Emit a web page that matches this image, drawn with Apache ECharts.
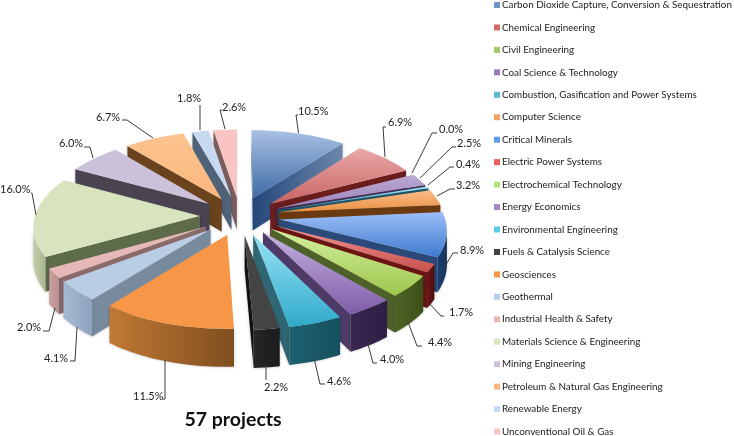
<!DOCTYPE html>
<html><head><meta charset="utf-8">
<style>html,body{margin:0;padding:0;background:#fff}#c{width:734px;height:436px}</style>
<script src="https://cdn.jsdelivr.net/npm/echarts@6/dist/echarts.min.js"></script>
</head><body><div id="c"></div>
<script>
var categories = ["Carbon Dioxide Capture, Conversion & Sequestration","Chemical Engineering","Civil Engineering","Coal Science & Technology","Combustion, Gasification and Power Systems","Computer Science","Critical Minerals","Electric Power Systems","Electrochemical Technology","Energy Economics","Environmental Engineering","Fuels & Catalysis Science","Geosciences","Geothermal","Industrial Health & Safety","Materials Science & Engineering","Mining Engineering","Petroleum & Natural Gas Engineering","Renewable Energy","Unconventional Oil & Gas"];
var shares = [10.5,6.9,0,2.5,0.4,3.2,8.9,1.7,4.4,4.0,4.6,2.2,11.5,4.1,2.0,16.0,6.0,6.7,1.8,2.6];
var legendColors = ["#6F93C8","#D46A68","#A4C86A","#9579B8","#5DB8D0","#F5A262","#5B9BEF","#E8605E","#B5E27A","#A48ACC","#5CC8E8","#404040","#F79646","#B9CDE5","#E6B9B8","#D7E4BD","#CCC1DA","#FCB57F","#C6D9F1","#F9C5C4"];
// top light, top dark, wall left, wall right, cut a, cut b
var shades = [
["#A9C0E3","#3F6BA6","#24477A","#6C86AB","#24477A","#6C86AB"],
["#E8A9A8","#C96463","#6E1F1E","#6E1F1E","#6A1D1C","#6A1D1C"],
["#A4C86A","#A4C86A","#4E6129","#4E6129","#4E6129","#4E6129"],
["#BCA9D3","#9A82BA","#3E2E58","#3E2E58","#3E2E58","#3E2E58"],
["#9FE0F0","#4FB5CE","#1F5566","#1F5566","#1F5566","#1F5566"],
["#F9BC8A","#EC8F42","#6B3A10","#6B3A10","#6B3A10","#6B3A10"],
["#9CBEF7","#3E7BD0","#1B3F72","#1A3358","#2B4A7A","#2B4A7A"],
["#F09593","#C9504D","#6B1513","#4E0F0E","#6B1513","#6B1513"],
["#D3F0A0","#9DC64C","#4E6526","#3C4F18","#4E6129","#4E6129"],
["#C5B2E0","#7F5CA8","#3A2650","#2E1E44","#4D3A66","#4D3A66"],
["#9AE2F5","#2FAACB","#1D6070","#15505E","#2E6674","#2E6674"],
["#444444","#444444","#262626","#1C1C1C","#111111","#111111"],
["#F79646","#F79646","#C07A34","#804E20","#804E20","#804E20"],
["#B9CDE5","#B9CDE5","#A5B9D2","#8FA3BC","#788A9E","#788A9E"],
["#E6B9B8","#E6B9B8","#CBA0A0","#B89090","#8A6A6A","#8A6A6A"],
["#D7E4BD","#D7E4BD","#C2CFA8","#A9B690","#5E6B4B","#5E6B4B"],
["#CCC1DA","#CCC1DA","#4A4452","#4A4452","#4A4452","#4A4452"],
["#FCC48F","#FBB77E","#7A4A1E","#7A4A1E","#6A431C","#6A431C"],
["#C6D9F1","#C6D9F1","#4F6278","#4F6278","#4F6278","#4F6278"],
["#F9C5C4","#F9C5C4","#7A5C5C","#7A5C5C","#7A5C5C","#7A5C5C"]
];
// label text anchor (left, centre y) and leader polyline for each slice
var labelLayout = [
[298,111,[[298.5,133],[296,115],[298,115]]],
[388,122,[[385,157],[383,127],[386,127]]],
[439,129,[[412,173],[432,133],[437,133]]],
[457,143,[[420,178],[452,147],[456,147]]],
[456,164,[[428,185],[450,167],[454,167]]],
[456,185,[[437,196],[450,189],[455,189]]],
[460,250,[[444,268],[453,253],[458,253]]],
[449,312,[[429,303],[441,316],[444,316]]],
[428,342,[[408,322],[417,346],[422,346]]],
[380,359,[[368,344],[373,363],[377,363]]],
[327,381,[[314,358],[320,384],[325,384]]],
[264,387,[[266,365],[266,380]]],
[133,396,[[165,360],[165,399],[163,399]]],
[44,358,[[77,327],[75,361],[70,361]]],
[17,327,[[55,308],[49,331],[43,331]]],
[0,189,[[36,215],[32,193],[31,193]]],
[59,143,[[93,158],[90,147],[84,147]]],
[96,117,[[153,138],[127,120],[122,120]]],
[177,98,[[200,130],[200,105]]],
[222,107,[[225,129],[220,110],[222,110]]]
];
var FONT = 'Lato, "Open Sans", sans-serif';
var view = {cx:240, cy:216, R:165, k:0.48, p:0.11, e:40, h:33};
var total = shares.reduce(function(a,b){return a+b;},0);
var starts = []; (function(){var c=0;shares.forEach(function(v){starts.push(c);c+=v;});})();
function ang(pc){return pc/total*Math.PI*2;}
function proj(u,v,d){var s=1/(1-view.p*v/view.R);return [view.cx+u*s,view.cy+view.k*v*s+d*s];}
function area(q){var a=0;for(var i=0;i<q.length;i++){var p=q[i],n=q[(i+1)%q.length];a+=p[0]*n[1]-n[0]*p[1];}return a;}
function grad(h,a,b){return new echarts.graphic.LinearGradient(0,0,h?1:0,h?0:1,[{offset:0,color:a},{offset:1,color:b}]);}
function poly(pts,fill,shadow){
  var st={fill:fill,stroke:null};
  if(shadow){st.shadowBlur=3;st.shadowColor='rgba(0,0,0,0.25)';}
  return {type:'polygon',shape:{points:pts},style:st};
}
function renderSlice(params,api){
  var i=api.value(0), val=api.value(1), c=shades[i];
  var a0=ang(starts[i]), a1=ang(starts[i]+val), m=(a0+a1)/2;
  var au=view.e*Math.sin(m), av=-view.e*Math.cos(m);
  if(!(val>0)){
    var rim=proj(au+view.R*Math.sin(m),av-view.R*Math.cos(m),view.h);
    return {type:'group',children:[{type:'polyline',shape:{points:[proj(au,av,view.h),rim]},style:{fill:null,stroke:c[4],lineWidth:1}}]};
  }
  var n=Math.max(4,Math.ceil((a1-a0)/0.03)), top=[], bot=[];
  for(var j=0;j<=n;j++){
    var a=a0+(a1-a0)*j/n, u=au+view.R*Math.sin(a), v=av-view.R*Math.cos(a);
    top.push(proj(u,v,0)); bot.push(proj(u,v,view.h));
  }
  var at=proj(au,av,0), ab=proj(au,av,view.h), kids=[];
  var q0=[at,top[0],bot[0],ab], q1=[top[n],at,ab,bot[n]];
  if(area(q0)<0) kids.push(poly(q0,grad(true,c[4],c[5]),true));
  if(area(q1)<0) kids.push(poly(q1,grad(true,c[4],c[5]),true));
  var first=-1,last=-1;
  for(j=0;j<n;j++){ if(area([top[j],top[j+1],bot[j+1],bot[j]])<0){ if(first<0)first=j; last=j+1; } }
  if(first>=0){
    var w=top.slice(first,last+1).concat(bot.slice(first,last+1).reverse());
    kids.push(poly(w,grad(true,c[2],c[3]),true));
  }
  kids.push(poly([at].concat(top),grad(false,c[0],c[1]),false));
  return {type:'group',children:kids};
}
function renderLabel(params,api){
  var i=api.value(0), L=labelLayout[i];
  return {type:'group',children:[
    {type:'polyline',shape:{points:L[2]},style:{fill:null,stroke:'#3a3a3a',lineWidth:1}},
    {type:'text',style:{text:shares[i].toFixed(1)+'%',x:L[0],y:L[1],fill:'#222',font:'11px '+FONT,textAlign:'left',textVerticalAlign:'middle'}}
  ]};
}
var order = categories.map(function(_,i){return i;}).sort(function(a,b){
  var ma=ang(starts[a]+shares[a]/2), mb=ang(starts[b]+shares[b]/2);
  return Math.cos(mb)-Math.cos(ma);
});
var series = categories.map(function(name,i){
  return {type:'custom',name:name,coordinateSystem:'none',silent:true,animation:false,clip:false,
    z:2+order.indexOf(i)/10,
    itemStyle:{color:legendColors[i]},
    data:[[i,shares[i]]],renderItem:renderSlice,encode:{value:1}};
});
series.push({type:'custom',name:'labels',coordinateSystem:'none',silent:true,animation:false,z:5,
  data:shares.map(function(v,i){return [i,v];}),renderItem:renderLabel});
var chart = echarts.init(document.getElementById('c'),null,{renderer:'canvas'});
chart.setOption({
  animation:false,backgroundColor:'#fff',
  title:{text:'57 projects',left:228,top:405,textAlign:'center',textStyle:{fontFamily:FONT,fontSize:19.5,fontWeight:'bold',color:'#111'}},
  legend:{data:categories.map(function(n){return {name:n,icon:'rect'};}),orient:'vertical',left:494,top:-2,height:470,width:240,padding:0,
    itemWidth:6,itemHeight:6,itemGap:8.45,selectedMode:false,
    textStyle:{fontFamily:FONT,fontSize:9.85,color:'#222',lineHeight:14,padding:[0,0,0,-3]}},
  series:series
});
</script></body></html>
